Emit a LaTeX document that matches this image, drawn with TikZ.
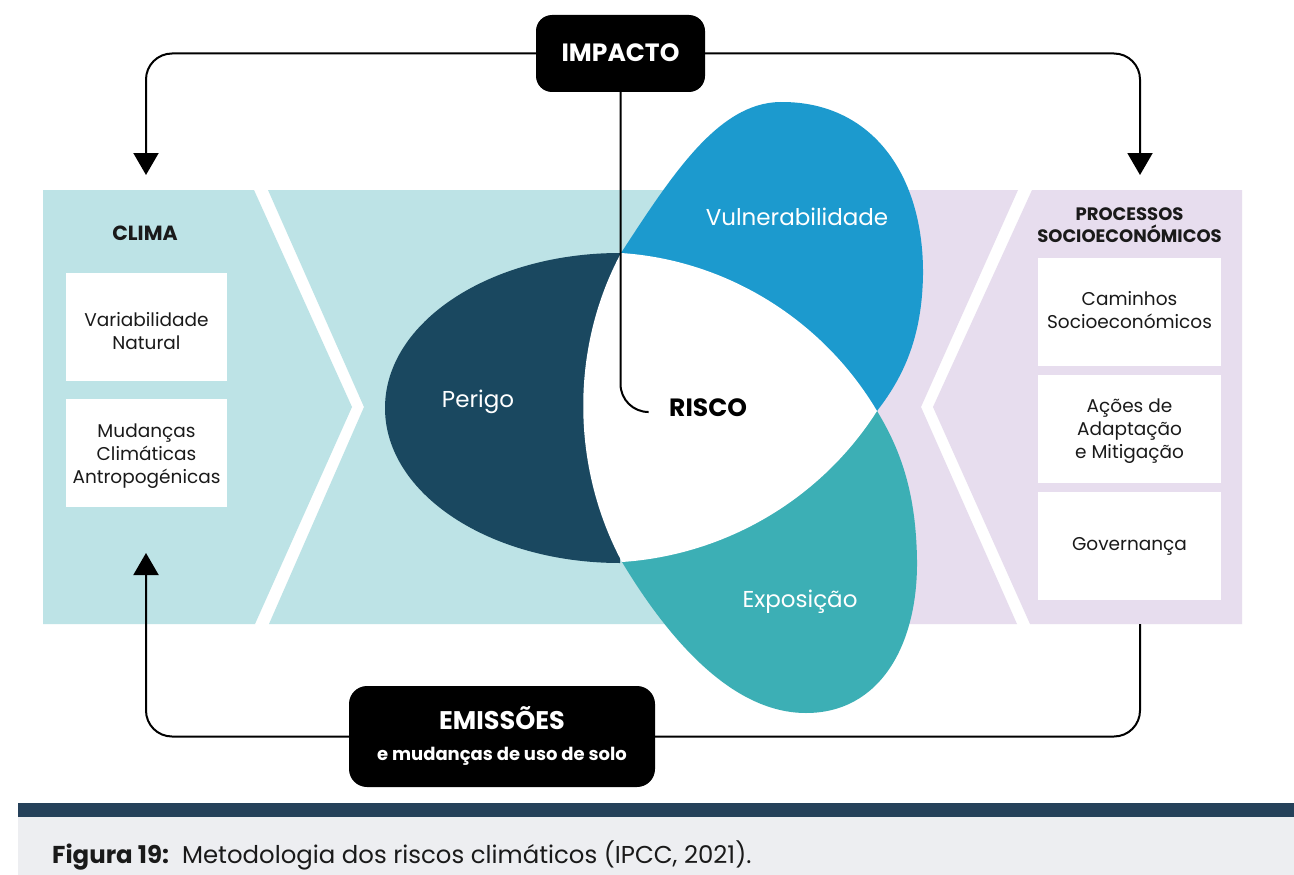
\documentclass[tikz,border=0pt]{standalone}
\usepackage{fontspec}
\setmainfont{Poppins}
\usetikzlibrary{arrows.meta}

\definecolor{climacyan}{HTML}{BDE3E6}
\definecolor{socioviolet}{HTML}{E7DDEE}
\definecolor{perigoblue}{HTML}{1A4860}
\definecolor{vulnblue}{HTML}{1C9ACE}
\definecolor{expoteal}{HTML}{3CAFB5}
\definecolor{barnavy}{HTML}{25415A}
\definecolor{captiongrey}{HTML}{EDEEF1}
\definecolor{inktext}{HTML}{1A1A1A}

\newcommand{\fsz}[2]{\fontsize{#1}{#2}\selectfont}

\begin{document}
\begin{tikzpicture}[x=1pt,y=-1pt,
  conn/.style={line width=2pt, draw=black},
  tipped/.style={-{Triangle[length=22pt,width=25pt]}},
  whitebox/.style={fill=white, inner sep=0pt, minimum height=108pt},
  boxtext/.style={anchor=base, inner sep=0pt, text=inktext, font=\fsz{18.5}{23}},
  header/.style={anchor=base, inner sep=0pt, text=inktext, font=\bfseries\fsz{18}{22}},
  blackbox/.style={fill=black, inner sep=0pt},
  petallabel/.style={anchor=base, inner sep=0pt, text=white, font=\fsz{23}{27}}]

\useasboundingbox (0,0) rectangle (1294,875);
\fill[white] (0,0) rectangle (1294,875);

% background bands: climate block, central block, socio-economic block
\fill[climacyan] (43,190) -- (254,190) -- (352,407) -- (255,624) -- (43,624) -- cycle;
\fill[climacyan] (268,190) -- (880,190) -- (880,624) -- (269,624) -- (364,407) -- cycle;
\fill[socioviolet] (878,190) -- (1018,190) -- (921,407) -- (1017,624) -- (878,624) -- cycle;
\fill[socioviolet] (1032,190) -- (1242,190) -- (1242,624) -- (1030,624) -- (933,407) -- cycle;

% the three petals
\fill[perigoblue] (620,253) .. controls (490,253) and (385,322) .. (385,408)
  .. controls (385,494) and (490,563) .. (620,563) -- cycle;
\fill[vulnblue] (621,253) .. controls (672,175) and (718,103) .. (780,102)
  .. controls (872,101) and (924,175) .. (923,275)
  .. controls (922,335) and (905,375) .. (877,411) -- cycle;
\fill[expoteal] (622,562) .. controls (672,645) and (735,713) .. (806,713)
  .. controls (880,713) and (918,645) .. (917,560)
  .. controls (916,495) and (902,452) .. (877,411) -- cycle;
% risk at the centre: a curved triangle
\fill[white] (621,253) .. controls (570,348) and (571,467) .. (622,562)
  .. controls (726,555) and (821,499) .. (877,411)
  .. controls (823,320) and (727,260) .. (621,253) -- cycle;

% petal labels
\node[petallabel] (perigo) at (478,407) {Perigo};
\node[petallabel] (vuln) at (797,225) {Vulnerabilidade};
\node[petallabel] (expo) at (800,607) {Exposição};
\node[anchor=base west, inner sep=0pt, font=\bfseries\fsz{25}{29}] (risco) at (669,416) {RISCO};
\coordinate (riscoIn) at (648,412);

% climate column
\node[header, font=\bfseries\fsz{20.5}{24}] (clima) at (145,240.5) {CLIMA};
\node[whitebox, minimum width=161pt] (varnat) at (146.5,327) {};
\node[boxtext] at (146.5,326) {Variabilidade};
\node[boxtext] at (146.5,349) {Natural};
\node[whitebox, minimum width=161pt] (mudclim) at (146.5,453) {};
\node[boxtext] at (146.5,437) {Mudanças};
\node[boxtext] at (146.5,460) {Climáticas};
\node[boxtext] at (146.5,483) {Antropogénicas};

% socio-economic column
\node[header] (procA) at (1129.5,220) {PROCESSOS};
\node[header] (procB) at (1129.5,242) {SOCIOECONÓMICOS};
\node[whitebox, minimum width=183pt] (caminhos) at (1129.5,312) {};
\node[boxtext] at (1129.5,305.5) {Caminhos};
\node[boxtext] at (1129.5,328.5) {Socioeconómicos};
\node[whitebox, minimum width=183pt] (acoes) at (1129.5,429) {};
\node[boxtext] at (1129.5,412) {Ações de};
\node[boxtext] at (1129.5,435) {Adaptação};
\node[boxtext] at (1129.5,458) {e Mitigação};
\node[whitebox, minimum width=183pt] (gov) at (1129.5,545.5) {};
\node[boxtext] at (1129.5,550) {Governança};

% impact and emissions boxes
\node[blackbox, rounded corners=16pt, minimum width=169pt, minimum height=77pt] (impacto) at (620.5,53.5) {};
\node[anchor=base, inner sep=0pt, text=white, font=\bfseries\fsz{25}{29}] (impactoT) at (620.5,62) {IMPACTO};
\node[blackbox, rounded corners=18pt, minimum width=306pt, minimum height=101pt] (emissoes) at (502,736.5) {};
\node[anchor=base, inner sep=0pt, text=white, font=\bfseries\fsz{25.5}{29}] (emissoesT) at (502,729) {EMISSÕES};
\node[anchor=base, inner sep=0pt, text=white, font=\bfseries\fsz{18}{22}] (emissoesS) at (502,760) {e mudanças de uso de solo};

% connector end points
\coordinate (climaTop) at (146,175);
\coordinate (climaBot) at (146,553);
\coordinate (socioTop) at (1140,175);
\coordinate (socioBot) at (1140,624);

% feedback loop
\draw[conn, tipped, rounded corners=26pt] (impacto.west) -| (climaTop);
\draw[conn, tipped, rounded corners=26pt] (impacto.east) -| (socioTop);
\draw[conn, rounded corners=28pt] (impacto.south) |- (riscoIn);
\draw[conn, rounded corners=26pt] (socioBot) |- (emissoes.east);
\draw[conn, tipped, rounded corners=26pt] (emissoes.west) -| (climaBot);

% caption
\fill[barnavy] (18,803) rectangle (1294,817);
\fill[captiongrey] (18,817) rectangle (1294,875);
\node[anchor=base west, inner sep=0pt, text=inktext, font=\fsz{24.4}{28}] (caption) at (52,863)
  {\textbf{Figura 19:}\ \ Metodologia dos riscos climáticos (IPCC, 2021).};
\end{tikzpicture}
\end{document}
